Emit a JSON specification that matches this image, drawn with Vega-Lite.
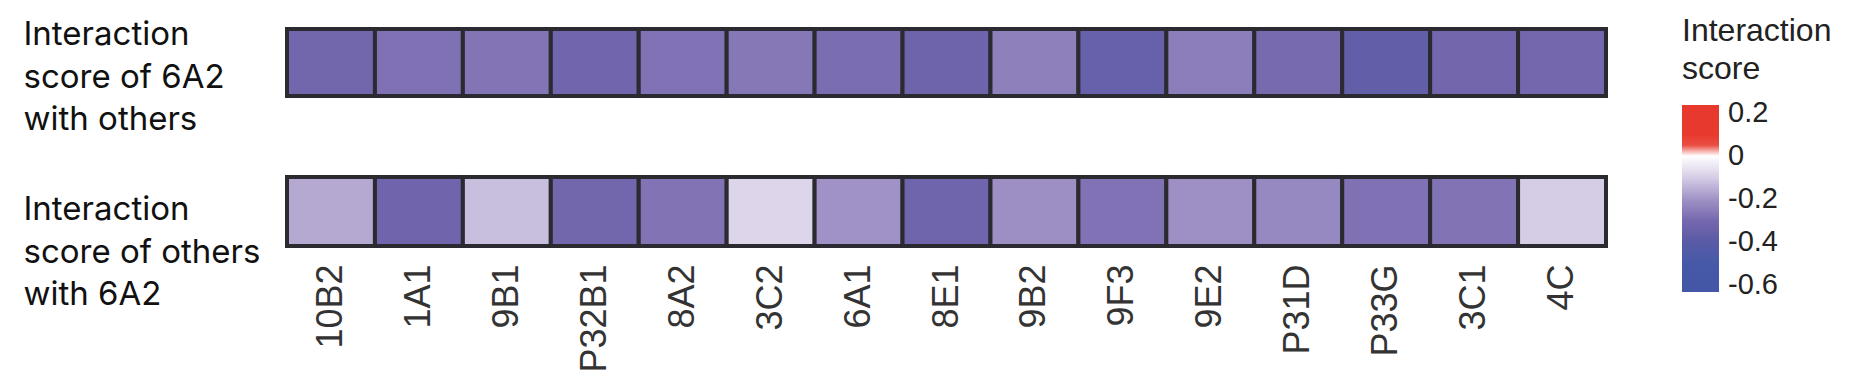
{
  "$schema": "https://vega.github.io/schema/vega-lite/v6.json",
  "background": "white",
  "padding": {"left": 23, "top": 16, "right": 5, "bottom": 5},
  "config": {"view": {"stroke": null}, "concat": {"spacing": 38}},
  "data": {"values": [
    {"row": "Interaction|score of 6A2|with others", "antibody": "10B2", "score": -0.314},
    {"row": "Interaction|score of 6A2|with others", "antibody": "1A1", "score": -0.279},
    {"row": "Interaction|score of 6A2|with others", "antibody": "9B1", "score": -0.272},
    {"row": "Interaction|score of 6A2|with others", "antibody": "P32B1", "score": -0.318},
    {"row": "Interaction|score of 6A2|with others", "antibody": "8A2", "score": -0.277},
    {"row": "Interaction|score of 6A2|with others", "antibody": "3C2", "score": -0.263},
    {"row": "Interaction|score of 6A2|with others", "antibody": "6A1", "score": -0.288},
    {"row": "Interaction|score of 6A2|with others", "antibody": "8E1", "score": -0.332},
    {"row": "Interaction|score of 6A2|with others", "antibody": "9B2", "score": -0.244},
    {"row": "Interaction|score of 6A2|with others", "antibody": "9F3", "score": -0.354},
    {"row": "Interaction|score of 6A2|with others", "antibody": "9E2", "score": -0.249},
    {"row": "Interaction|score of 6A2|with others", "antibody": "P31D", "score": -0.295},
    {"row": "Interaction|score of 6A2|with others", "antibody": "P33G", "score": -0.371},
    {"row": "Interaction|score of 6A2|with others", "antibody": "3C1", "score": -0.311},
    {"row": "Interaction|score of 6A2|with others", "antibody": "4C", "score": -0.304},
    {"row": "Interaction|score of others|with 6A2", "antibody": "10B2", "score": -0.162},
    {"row": "Interaction|score of others|with 6A2", "antibody": "1A1", "score": -0.321},
    {"row": "Interaction|score of others|with 6A2", "antibody": "9B1", "score": -0.126},
    {"row": "Interaction|score of others|with 6A2", "antibody": "P32B1", "score": -0.314},
    {"row": "Interaction|score of others|with 6A2", "antibody": "8A2", "score": -0.274},
    {"row": "Interaction|score of others|with 6A2", "antibody": "3C2", "score": -0.083},
    {"row": "Interaction|score of others|with 6A2", "antibody": "6A1", "score": -0.202},
    {"row": "Interaction|score of others|with 6A2", "antibody": "8E1", "score": -0.325},
    {"row": "Interaction|score of others|with 6A2", "antibody": "9B2", "score": -0.209},
    {"row": "Interaction|score of others|with 6A2", "antibody": "9F3", "score": -0.277},
    {"row": "Interaction|score of others|with 6A2", "antibody": "9E2", "score": -0.207},
    {"row": "Interaction|score of others|with 6A2", "antibody": "P31D", "score": -0.226},
    {"row": "Interaction|score of others|with 6A2", "antibody": "P33G", "score": -0.279},
    {"row": "Interaction|score of others|with 6A2", "antibody": "3C1", "score": -0.274},
    {"row": "Interaction|score of others|with 6A2", "antibody": "4C", "score": -0.102}
  ]},
  "resolve": {"scale": {"color": "shared"}},
  "vconcat": [
    {
      "width": 1319,
      "height": 67,
      "transform": [{"filter": "indexof(datum.row, '6A2|with others') >= 0"}],
      "mark": {"type": "rect", "stroke": "#2b2a30", "strokeWidth": 4},
      "encoding": {
        "x": {"field": "antibody", "type": "nominal", "sort": null, "scale": {"padding": 0}, "axis": null},
        "y": {"field": "row", "type": "nominal", "scale": {"padding": 0},
          "axis": {"title": null, "domain": false, "ticks": false, "tickSize": 0, "labelAlign": "left", "labelBaseline": "middle",
            "labelPadding": 264, "labelOffset": -27.5, "labelFont": "Inter", "labelFontSize": 33, "labelColor": "#111",
            "labelLineHeight": 42.5, "labelLimit": 500, "labelExpr": "split(datum.label, '|')"}},
        "color": {"field": "score", "type": "quantitative",
          "scale": {"type": "linear", "interpolate": "rgb",
            "domain": [-0.633, -0.5, -0.4, -0.3, -0.2, -0.1, 0, 0.056, 0.237],
            "range": ["#4356a7", "#4659a8", "#5a5aa6", "#7668ae", "#a193c6", "#d6cde6", "#ffffff", "#e8392e", "#e8392e"]},
          "legend": {"orient": "none", "legendX": 1395, "legendY": -13, "direction": "vertical", "title": ["Interaction", "score"],
            "gradientLength": 187, "gradientThickness": 37, "gradientStrokeWidth": 0, "values": [-0.6, -0.4, -0.2, 0, 0.2],
            "labelFont": "Liberation Sans", "labelFontSize": 29, "labelColor": "#222", "labelOffset": 9, "labelBaseline": "middle", "labelOverlap": false,
            "labelExpr": "datum.value == 0 ? '0' : (datum.value < 0 ? '-' : '') + format(abs(datum.value), '.1f')",
            "titleFont": "Liberation Sans", "titleFontSize": 32, "titleFontWeight": "normal", "titleColor": "#222", "titleLineHeight": 38, "titlePadding": 19}}
      }
    },
    {
      "width": 1319,
      "height": 69,
      "transform": [{"filter": "indexof(datum.row, 'others|with 6A2') >= 0"}],
      "mark": {"type": "rect", "stroke": "#2b2a30", "strokeWidth": 4},
      "encoding": {
        "x": {"field": "antibody", "type": "nominal", "sort": null, "scale": {"padding": 0},
          "axis": {"title": null, "domain": false, "ticks": false, "tickSize": 0, "labelAngle": -90, "labelPadding": 18,
            "labelFont": "Liberation Sans", "labelFontSize": 36, "labelColor": "#333", "labelLimit": 300}},
        "y": {"field": "row", "type": "nominal", "scale": {"padding": 0},
          "axis": {"title": null, "domain": false, "ticks": false, "tickSize": 0, "labelAlign": "left", "labelBaseline": "middle",
            "labelPadding": 264, "labelOffset": -1.5, "labelFont": "Inter", "labelFontSize": 33, "labelColor": "#111",
            "labelLineHeight": 42.5, "labelLimit": 500, "labelExpr": "split(datum.label, '|')"}},
        "color": {"field": "score", "type": "quantitative",
          "scale": {"type": "linear", "interpolate": "rgb",
            "domain": [-0.633, -0.5, -0.4, -0.3, -0.2, -0.1, 0, 0.056, 0.237],
            "range": ["#4356a7", "#4659a8", "#5a5aa6", "#7668ae", "#a193c6", "#d6cde6", "#ffffff", "#e8392e", "#e8392e"]},
          "legend": {"orient": "none", "legendX": 1395, "legendY": -13, "direction": "vertical", "title": ["Interaction", "score"],
            "gradientLength": 187, "gradientThickness": 37, "gradientStrokeWidth": 0, "values": [-0.6, -0.4, -0.2, 0, 0.2],
            "labelFont": "Liberation Sans", "labelFontSize": 29, "labelColor": "#222", "labelOffset": 9, "labelBaseline": "middle", "labelOverlap": false,
            "labelExpr": "datum.value == 0 ? '0' : (datum.value < 0 ? '-' : '') + format(abs(datum.value), '.1f')",
            "titleFont": "Liberation Sans", "titleFontSize": 32, "titleFontWeight": "normal", "titleColor": "#222", "titleLineHeight": 38, "titlePadding": 19}}
      }
    }
  ]
}
